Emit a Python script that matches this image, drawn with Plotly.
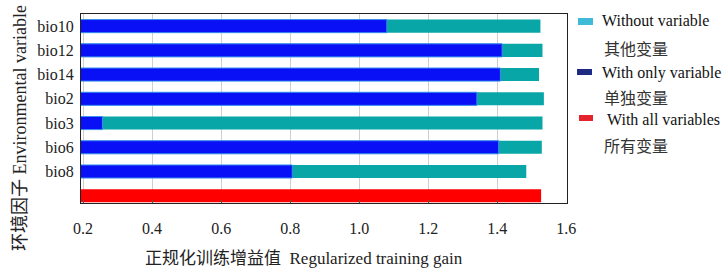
import plotly.graph_objects as go

# ---- data ----
variables = ["bio10", "bio12", "bio14", "bio2", "bio3", "bio6", "bio8"]
without_variable = [1.525, 1.531, 1.521, 1.535, 1.531, 1.529, 1.484]
with_only_variable = [1.080, 1.414, 1.409, 1.341, 0.256, 1.404, 0.806]
all_label = "all"
with_all_variables = [1.527]
x_ticks = [0.2, 0.4, 0.6, 0.8, 1.0, 1.2, 1.4, 1.6]
x_tick_labels = ["0.2", "0.4", "0.6", "0.8", "1.0", "1.2", "1.4", "1.6"]

legend_en = ["Without variable", "With only variable", "With all variables"]
legend_zh = ["其他变量", "单独变量", "所有变量"]
x_title = "正规化训练增益值  Regularized training gain"
y_title = "环境因子 Environmental variable"

# bottom-to-top order of categories
cat_order = [all_label] + variables[::-1]
cat_text = [""] + variables[::-1]

SERIF = "Liberation Serif, Times New Roman, Noto Sans CJK SC, serif"
W, H = 725, 269
L, R, T, B = 81, 158, 14, 66
PW, PH = W - L - R, H - T - B


def px(x):
    return (x - L) / PW


def py(y):
    return (H - B - y) / PH


fig = go.Figure()
fig.add_trace(go.Bar(
    y=variables, x=without_variable, orientation="h",
    marker=dict(color="#08a6a6", line=dict(width=0)),
    width=0.54, showlegend=False, name=legend_en[0]))
fig.add_trace(go.Bar(
    y=variables, x=with_only_variable, orientation="h",
    marker=dict(color="#0a10f5", line=dict(color="#3a8ef0", width=1)),
    width=0.54, showlegend=False, name=legend_en[1]))
fig.add_trace(go.Bar(
    y=[all_label], x=with_all_variables, orientation="h",
    marker=dict(color="#ff0000", line=dict(width=0)),
    width=0.54, showlegend=False, name=legend_en[2]))

annotations = [
    dict(text=x_title, x=px(304), y=py(258), xref="paper", yref="paper",
         xanchor="center", yanchor="middle", showarrow=False,
         font=dict(family=SERIF, size=17, color="#222")),
    dict(text=y_title, x=px(20), y=py(128), xref="paper", yref="paper",
         xanchor="center", yanchor="middle", showarrow=False, textangle=-90,
         font=dict(family=SERIF, size=18, color="#222")),
]
legend_pos = [(600, 20, 602, 48), (600, 73, 602, 97), (605, 119, 602, 145)]
swatches = [((578, 18, 593, 25), "#3fbbd7"),
            ((577, 69, 592, 75), "#1f2a82"),
            ((579, 115, 593, 121), "#e5232c")]
for (ex, ey, zx, zy), en, zh in zip(legend_pos, legend_en, legend_zh):
    annotations.append(dict(text=en, x=px(ex), y=py(ey), xref="paper", yref="paper",
                            xanchor="left", yanchor="middle", showarrow=False,
                            font=dict(family=SERIF, size=16, color="#111")))
    annotations.append(dict(text=zh, x=px(zx), y=py(zy), xref="paper", yref="paper",
                            xanchor="left", yanchor="middle", showarrow=False,
                            font=dict(family="Noto Sans CJK SC", size=16, color="#333")))
shapes = []
for (x0, y0, x1, y1), col in swatches:
    shapes.append(dict(type="rect", xref="paper", yref="paper",
                       x0=px(x0), x1=px(x1), y0=py(y1), y1=py(y0),
                       fillcolor=col, line=dict(width=0)))

fig.update_layout(
    width=W, height=H, margin=dict(l=L, r=R, t=T, b=B, pad=0),
    paper_bgcolor="white", plot_bgcolor="white",
    barmode="overlay", bargap=0.46,
    font=dict(family=SERIF, size=16, color="#222"),
    xaxis=dict(range=[0.194, 1.602], tickvals=x_ticks, ticktext=x_tick_labels,
               showgrid=True, gridcolor="#cfcfcf", gridwidth=1, zeroline=False,
               showline=True, linecolor="#222", linewidth=1, mirror=True,
               ticks="inside", ticklen=3, tickcolor="#555",
               ticklabelstandoff=11, tickfont=dict(family=SERIF, size=16, color="#222")),
    yaxis=dict(type="category", categoryorder="array", categoryarray=cat_order,
               tickvals=cat_order, ticktext=cat_text, range=[-0.3, 7.5],
               showgrid=False, zeroline=False, showline=True, linecolor="#222",
               linewidth=1, mirror=True, ticks="",
               ticklabelstandoff=3, tickfont=dict(family=SERIF, size=16, color="#222")),
    yaxis2=dict(overlaying="y", side="right", type="linear", range=[-0.3, 7.5],
                tickvals=[0.12, 1.12, 2.12, 3.12, 4.12, 5.12, 6.12, 7.12],
                ticks="inside", ticklen=5, tickcolor="#666", showticklabels=False,
                showgrid=False, zeroline=False, showline=False),
    annotations=annotations, shapes=shapes,
)

fig.write_html(
    "out.html",
    config={"displayModeBar": False},
    post_script="document.body.style.margin='0';document.body.style.overflow='hidden';",
)
